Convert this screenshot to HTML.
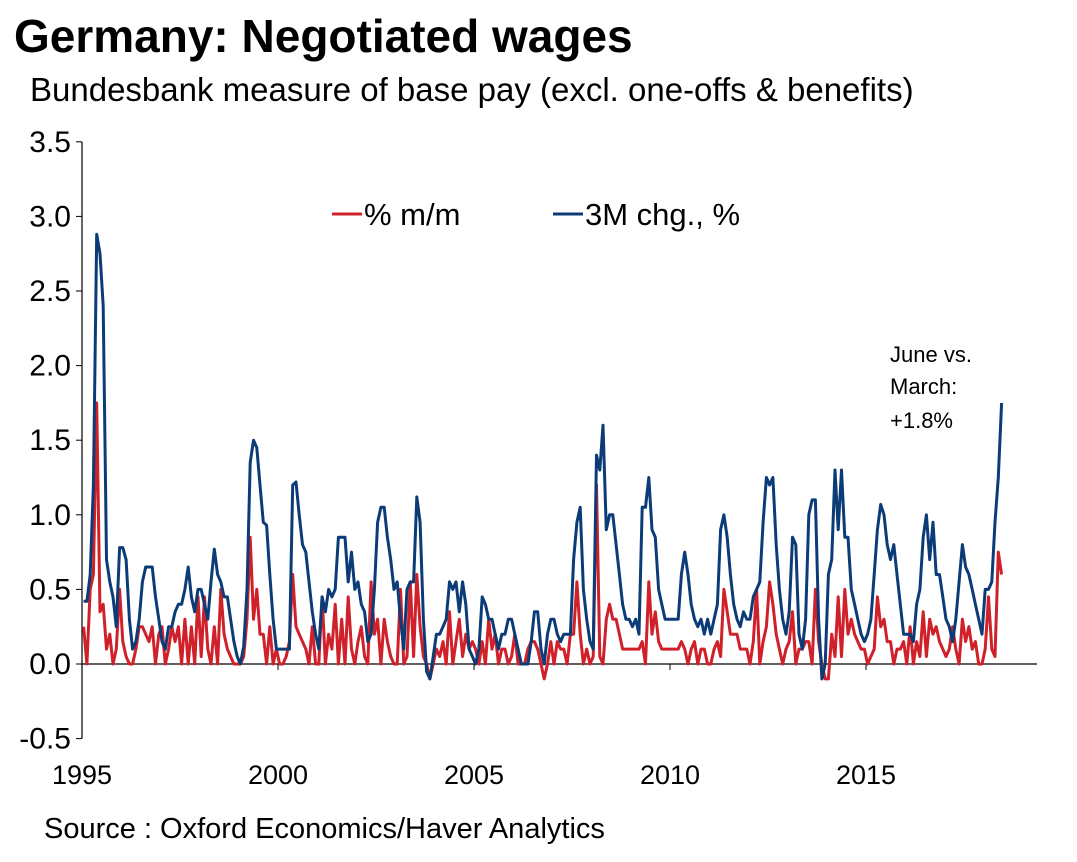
<!DOCTYPE html>
<html><head><meta charset="utf-8">
<style>
body{margin:0;background:#fff;width:1077px;height:857px;overflow:hidden;font-family:"Liberation Sans",Arial,sans-serif;}
</style></head>
<body>
<svg width="1077" height="857" xmlns="http://www.w3.org/2000/svg">
<text x="14" y="52" font-size="46" font-weight="bold" fill="#000">Germany: Negotiated wages</text>
<text x="30" y="101" font-size="33" fill="#000">Bundesbank measure of base pay (excl. one-offs &amp; benefits)</text>
<text x="44" y="838" font-size="29" fill="#000">Source : Oxford Economics/Haver Analytics</text>
<g id="axes"></g>
<g id="series"></g>
<g>
<line x1="332" y1="214" x2="362" y2="214" stroke="#d0202a" stroke-width="3"/>
<text x="364" y="225" font-size="31">% m/m</text>
<line x1="553" y1="214" x2="583" y2="214" stroke="#0c3c78" stroke-width="3"/>
<text x="585" y="225" font-size="31">3M chg., %</text>
</g>
<g font-size="22">
<text x="890" y="362">June vs.</text>
<text x="890" y="394">March:</text>
<text x="890" y="428">+1.8%</text>
</g>
</svg>
<script>
const yTicks=[-0.5,0,0.5,1,1.5,2,2.5,3,3.5];
const yTickLabels=["-0.5","0.0","0.5","1.0","1.5","2.0","2.5","3.0","3.5"];
const xYears=[1995,2000,2005,2010,2015];
const startYear=1995;
const chg3m=[
.42,.42,.6,1.2,2.88,2.75,2.4,.7,.55,.45,.25,.78,
.78,.7,.3,.1,.15,.3,.55,.65,.65,.65,.45,.3,
.15,.1,.25,.25,.35,.4,.4,.5,.65,.45,.35,.5,
.5,.4,.3,.55,.77,.6,.55,.45,.45,.3,.15,.05,
0,.12,.5,1.35,1.5,1.45,1.2,.95,.93,.6,.3,.1,
.1,.1,.1,.1,1.2,1.22,1.0,.8,.75,.55,.35,.2,
.1,.45,.35,.5,.45,.5,.85,.85,.85,.55,.75,.5,
.55,.4,.35,.15,.2,.5,.95,1.05,1.05,.85,.7,.5,
.55,.3,.1,.5,.55,.55,1.12,.95,.3,-.05,-.1,.05,
.2,.2,.25,.3,.55,.5,.55,.35,.55,.4,.1,.05,
0,.1,.45,.4,.3,.3,.2,.1,.2,.2,.3,.3,
.2,.1,0,0,0,.15,.35,.35,.1,0,.2,.3,
.3,.2,.15,.2,.2,.2,.7,.95,1.05,.5,.3,.15,
.1,1.4,1.3,1.6,.9,1.0,1.0,.8,.6,.4,.3,.3,
.25,.3,.2,1.05,1.05,1.25,.9,.85,.5,.4,.3,.3,
.3,.3,.3,.6,.75,.6,.4,.3,.25,.3,.2,.3,
.2,.3,.4,.9,1.0,.85,.6,.4,.3,.25,.35,.3,
.3,.45,.5,.55,.95,1.25,1.2,1.25,.8,.5,.3,.2,
.35,.85,.8,.2,.1,.3,1.0,1.1,1.1,.3,-.1,0,
.6,.7,1.3,.9,1.3,.85,.85,.5,.4,.3,.2,.15,
.2,.3,.6,.9,1.07,1.0,.8,.7,.8,.6,.4,.2,
.2,.2,.15,.4,.5,.85,1.0,.7,.95,.6,.6,.45,
.3,.25,.15,.3,.55,.8,.65,.6,.5,.4,.3,.2,
.5,.5,.55,.95,1.25,1.75];
const mm=[
.25,0,.5,.6,1.75,.35,.4,.1,.2,0,.1,.5,
.15,.05,0,0,.1,.25,.25,.2,.15,.25,0,.2,
.25,0,.1,.25,.15,.25,0,.3,0,.25,0,.45,
.05,.45,.1,0,.25,0,.5,.2,.1,.05,0,0,
0,.05,.3,.85,.3,.5,.2,.2,0,.25,0,.1,
0,0,.05,.15,.6,.25,.2,.15,.1,0,.25,0,
0,.45,0,.2,.1,.4,0,.3,0,.45,.1,0,
.15,.25,.05,0,.55,.2,.3,0,.3,.15,.05,0,
0,.5,0,.05,.55,.05,.6,.25,.05,0,-.1,0,
.1,.05,.15,0,.35,0,.15,.3,.05,.2,.1,.15,
.1,0,.15,0,.3,.1,.2,0,.1,.1,0,.05,
.2,0,0,0,.1,.15,.15,.1,0,-.1,0,.15,
0,.15,.1,.1,0,.2,.2,.55,.2,0,.1,0,
.05,1.2,.05,0,.3,.4,.3,.3,.2,.1,.1,.1,
.1,.1,.1,.15,0,.55,.2,.35,.15,.1,.1,.1,
.1,.1,.1,.15,.1,0,.1,.15,0,.1,.1,0,
0,.1,.15,.05,.5,.35,.2,.2,.2,.1,.1,.1,
0,.15,.5,0,.15,.25,.55,.4,.2,.1,0,.1,
.15,.35,0,.1,.1,.15,.15,0,.5,.15,0,-.1,
-.1,.2,.05,.45,.05,.5,.2,.3,.2,.15,.1,.1,
0,.05,.1,.45,.25,.3,.15,.15,0,.1,.1,.15,
0,.25,0,.15,.05,.35,.05,.3,.2,.25,.15,.1,
.05,.1,.25,.1,0,.3,.15,.25,.1,.15,0,0,
.1,.45,.1,.05,.75,.6];

const NS="http://www.w3.org/2000/svg";
const X=y=>82+(y-1995)*39.2;
const Y=v=>664-v*149.2;
const xm=i=>X(startYear+(i+0.5)/12);
function mk(t,a,p){const e=document.createElementNS(NS,t);for(const k in a)e.setAttribute(k,a[k]);p.appendChild(e);return e;}
const ax=document.getElementById('axes');
const yAxis=mk('line',{x1:82,y1:Y(3.5),x2:82,y2:Y(-0.5),stroke:'#000','stroke-width':1.2},ax);


const base=mk('line',{x1:82,y1:Y(0),x2:1037,y2:Y(0),stroke:'#000','stroke-width':1.2},ax);


yTicks.forEach((v,i)=>{
 mk('line',{x1:76,y1:Y(v),x2:82,y2:Y(v),stroke:'#000'},ax);
 const t=mk('text',{x:71,y:Y(v)+10,'font-size':30,'text-anchor':'end'},ax);
 t.textContent=yTickLabels[i];
 
 
});
xYears.forEach(yr=>{
 mk('line',{x1:X(yr),y1:Y(0),x2:X(yr),y2:Y(0)+6,stroke:'#000'},ax);
 const t=mk('text',{x:X(yr),y:784,'font-size':27,'text-anchor':'middle'},ax);
 t.textContent=yr;
 
 
});
const sg=document.getElementById('series');
function line(arr,color,name){
 const p=mk('polyline',{points:arr.map((v,i)=>xm(i).toFixed(1)+','+Y(v).toFixed(1)).join(' '),fill:'none',stroke:color,'stroke-width':3,'stroke-linejoin':'round'},sg);
 
 
}
line(mm,'#d0202a','series-mm');
line(chg3m,'#0c3c78','series-3m-chg');
</script>
</body></html>
